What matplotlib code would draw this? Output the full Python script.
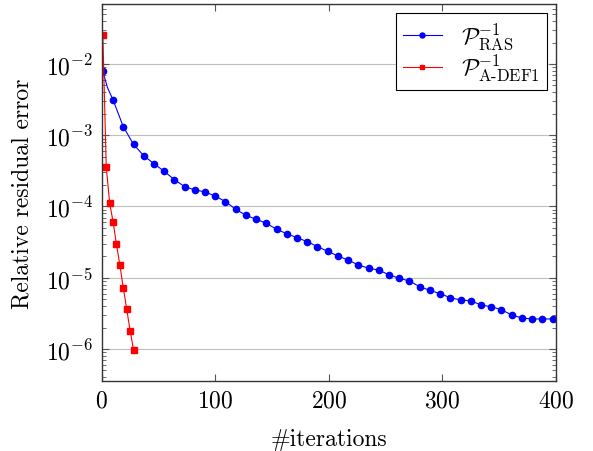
import numpy as np
import matplotlib
matplotlib.use("Agg")
import matplotlib.pyplot as plt
from matplotlib.ticker import LogLocator, NullFormatter

plt.rcParams["font.family"] = "serif"
plt.rcParams["font.serif"] = ["cmr10"]
plt.rcParams["mathtext.fontset"] = "cm"
plt.rcParams["axes.unicode_minus"] = False
plt.rcParams["axes.formatter.use_mathtext"] = True

# RAS: markers every 9 iterations, plus an unmarked kink point and the end point
ras_iters = [1, 5, 10, 19, 28, 37, 46, 55, 64, 73, 82, 91, 100, 109, 118, 127,
             136, 145, 154, 163, 172, 181, 190, 199, 208, 217, 226, 235, 244,
             253, 262, 271, 280, 289, 298, 307, 316, 325, 334, 343, 352, 361,
             370, 379, 388, 397, 400]
ras_err = [7.97e-3, 4.7e-3, 3.13e-3, 1.32e-3, 7.46e-4, 5.16e-4, 3.99e-4, 3.12e-4,
           2.38e-4, 1.90e-4, 1.71e-4, 1.60e-4, 1.40e-4, 1.17e-4, 9.14e-5, 7.52e-5,
           6.61e-5, 5.81e-5, 4.78e-5, 4.15e-5, 3.65e-5, 3.21e-5, 2.73e-5, 2.35e-5,
           2.02e-5, 1.77e-5, 1.51e-5, 1.36e-5, 1.28e-5, 1.10e-5, 9.82e-6, 9.00e-6,
           7.48e-6, 6.66e-6, 5.97e-6, 5.25e-6, 4.87e-6, 4.76e-6, 4.14e-6, 3.92e-6,
           3.56e-6, 3.00e-6, 2.72e-6, 2.64e-6, 2.64e-6, 2.64e-6, 2.64e-6]
ras_marked = [i for i, it in enumerate(ras_iters) if it not in (5, 400)]

# A-DEF1
def_iters = [1, 4, 7, 10, 13, 16, 19, 22, 25, 28]
def_err = [2.55e-2, 3.62e-4, 1.12e-4, 6.12e-5, 2.94e-5, 1.51e-5, 7.24e-6,
           3.64e-6, 1.81e-6, 9.8e-7]

W, H = 593, 452
fig = plt.figure(figsize=(W / 100, H / 100), dpi=100)
ax = fig.add_axes([101.7 / W, 1 - 381.7 / H, (556 - 101.7) / W, (381.7 - 5) / H])

ax.semilogy(ras_iters, ras_err, color="blue", lw=0.8, marker="o", ms=4.5,
            markevery=ras_marked, label=r"$\mathcal{P}_{\mathrm{RAS}}^{-1}$")
ax.semilogy(def_iters, def_err, color="red", lw=0.8, marker="s", ms=4,
            label=r"$\mathcal{P}_{\mathrm{A\text{-}DEF1}}^{-1}$")

ax.set_xlim(0, 400)
ax.set_ylim(10 ** -6.445, 10 ** -1.158)
ax.set_xticks([0, 100, 200, 300, 400])
ax.yaxis.set_major_locator(LogLocator(base=10, numticks=10))
ax.yaxis.set_minor_locator(LogLocator(base=10, subs=np.arange(2, 10), numticks=20))
ax.yaxis.set_minor_formatter(NullFormatter())

ax.grid(True, axis="y", which="major", color="#bfbfbf", lw=0.8)
ax.set_axisbelow(True)
ax.tick_params(which="both", direction="in", top=True, right=True,
               labelsize=17, color="#555555")
ax.tick_params(which="major", length=5, width=0.8, pad=6)
ax.tick_params(which="minor", length=3, width=0.6)
for spine in ax.spines.values():
    spine.set_linewidth(1.0)
    spine.set_color("#333333")

ax.set_xlabel("#iterations", fontsize=17, labelpad=12)
ax.set_ylabel("Relative residual error", fontsize=17, labelpad=9)

leg = ax.legend(loc="upper right", fontsize=17, frameon=True, fancybox=False,
                edgecolor="black", framealpha=1, handlelength=1.65,
                borderaxespad=0.4, labelspacing=0.0, borderpad=0.3,
                markerscale=0.8)
leg.get_frame().set_linewidth(0.8)

fig.savefig("out.png", dpi=100)
